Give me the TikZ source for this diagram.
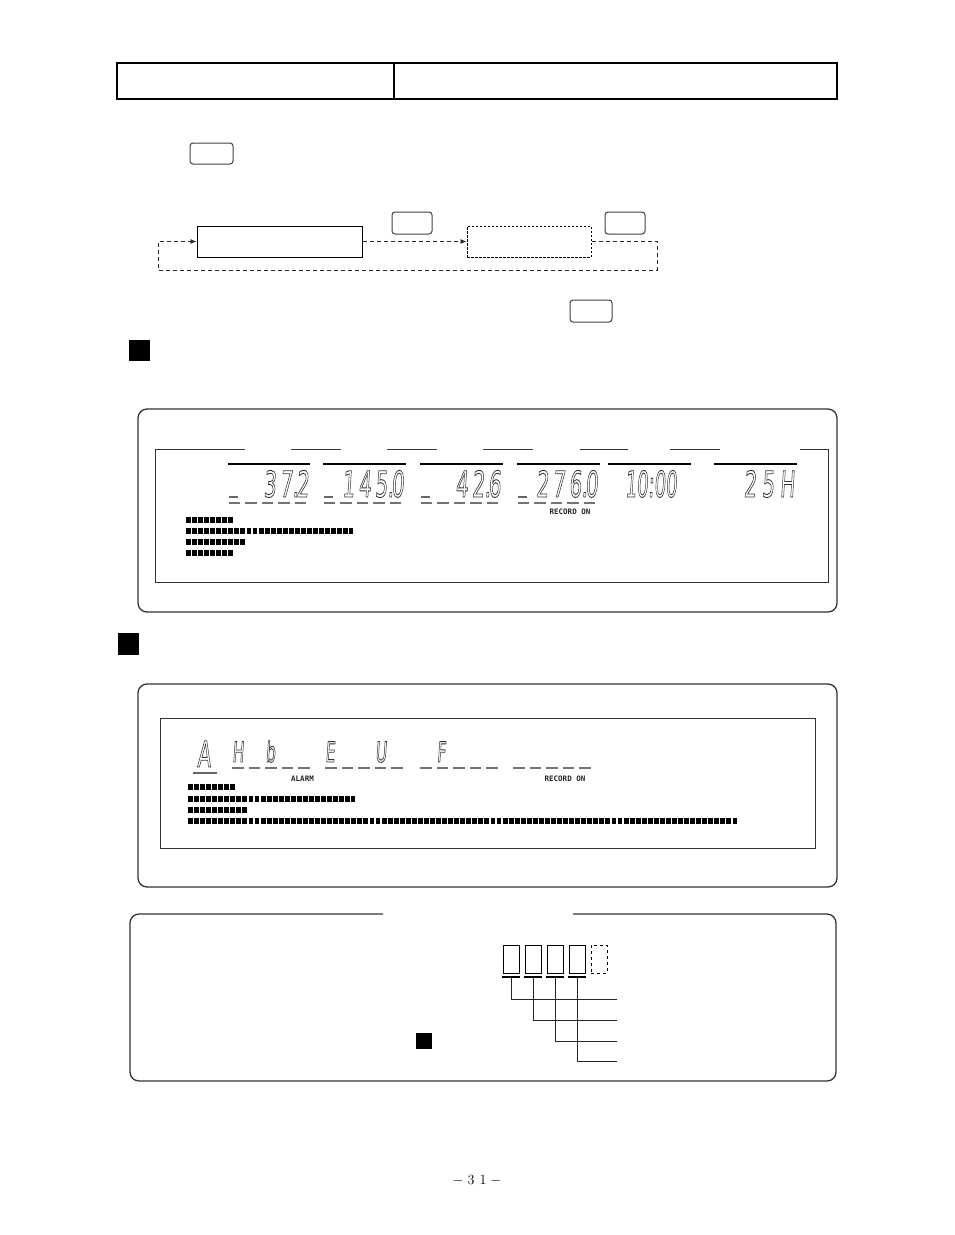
\documentclass[tikz,border=0pt]{standalone}
\usepackage{fontspec}
\usepackage{graphicx}
\newfontfamily\segfont[FakeSlant=0.12]{DejaVu Sans}
\newfontfamily\lcdfont{DejaVu Sans Mono}
\usetikzlibrary{arrows.meta}
\newcommand\outl[1]{\special{pdf:literal direct 1 Tr 0.9 w}#1\special{pdf:literal direct 0 Tr}}
\newcommand\sgA[1]{\scalebox{0.55}[1]{\outl{#1}}}
\newcommand\segrow[6]{% name, xstart, ybase, pitch, style, list
  \foreach \ch [count=\i from 0] in {#6}{%
    \node[#5] (#1-\i) at ({#2+#4*\i+2.5},#3) {\sgA{\ch}};}}
\tikzset{
  keybox/.style={draw=black!75, line width=1pt, rounded corners=3pt, inner sep=0pt},
  flowbox/.style={draw=black, line width=1pt, inner sep=0pt},
  flowline/.style={draw=black!85, line width=0.9pt, dash pattern=on 4pt off 3pt, -{Latex[length=6pt,width=5pt]}},
  panel/.style={draw=black!80, line width=1.3pt, rounded corners=9pt},
  lcd/.style={draw=black!80, line width=1pt},
  segL/.style={font=\segfont\fontsize{36}{36}\selectfont, inner sep=0pt, anchor=base west, text=black!80},
  segS/.style={font=\segfont\fontsize{28}{28}\selectfont, inner sep=0pt, anchor=base west, text=black!80},
  dashrow/.style={draw=black!55, line width=2.2pt, dash pattern=on 11.5pt off 5pt},
  uline/.style={draw=black!60, line width=2pt},
  bars/.style={draw=black, line width=6.8pt, dash pattern=on 4.9pt off 1.15pt},
  tag/.style={font=\lcdfont\bfseries\fontsize{7.5}{7.5}\selectfont, inner sep=0pt, text=black!85},
  blk/.style={fill=black, inner sep=0pt},
  cell/.style={draw=black, line width=0.9pt, minimum width=16pt, minimum height=28pt, inner sep=0pt},
}
\begin{document}
\begin{tikzpicture}[x=1pt,y=-1pt]
\useasboundingbox (0,0) rectangle (954,1235);

% header table
\draw[line width=2.6pt] (117,63) rectangle (837,99);
\draw[line width=2pt] (394,63) -- (394,99);

% key at top
\node[keybox, minimum width=43pt, minimum height=21pt] (key1) at (211.5,153.5) {};

% flow
\node[flowbox, minimum width=165pt, minimum height=31pt] (boxA) at (279.5,241.5) {};
\node[flowbox, dash pattern=on 2.5pt off 1.5pt, minimum width=124pt, minimum height=31pt] (boxB) at (529,241.5) {};
\node[keybox, minimum width=40pt, minimum height=22pt] (key2) at (412,223) {};
\node[keybox, minimum width=40pt, minimum height=22pt] (key3) at (625,223) {};
\node[keybox, minimum width=42pt, minimum height=22pt] (key4) at (591,311) {};
\coordinate (cr) at (657,270);
\coordinate (cl) at (158,270);
\draw[flowline] (boxA.east) -- (boxB.west);
\draw[flowline] (boxB.east) -| (cr) -- (cl) |- (boxA.west);

% black squares
\node[blk, minimum width=21pt, minimum height=21pt] (sq1) at (139.5,350.5) {};
\node[blk, minimum width=21pt, minimum height=22pt] (sq2) at (128.5,644) {};

% ===== panel 1 =====
\draw[panel] (138,409) rectangle (837,612);
\draw[lcd] (155,449) -- (155,582) -- (828,582) -- (828,449);
\foreach \a/\b in {155/245,291/341,387/437,483/533,580/628,670/720,800/828}
  \draw[lcd] (\a,449) -- (\b,449);
\foreach \a/\b in {228/310,323/406,420/503,517/600,608/691,714/797}
  \draw[black, line width=1.1pt] (\a,464) -- (\b,464);
\segrow{pa}{228}{497}{16.4}{segL}{{},{},3,7.,2}
\segrow{pb}{323}{497}{16.4}{segL}{{},1,4,5.,0}
\segrow{pc}{420}{497}{16.4}{segL}{{},{},4,2.,6}
\segrow{pd}{517}{497}{16.4}{segL}{{},2,7,6.,0}
\node[segL, anchor=base] (pe) at (651,497) {\scalebox{0.5}[1]{\outl{10:00}}};
\segrow{pf}{741}{497}{18}{segL}{2,5,H}
\foreach \a in {228,323,420,517}
  \draw[uline] (\a+0.5,497) -- (\a+9.5,497);
\foreach \a in {228,323,420,517}
  \draw[dashrow] (\a+0.5,503) -- (\a+80.5,503);
\node[tag] (rec1) at (570,511.5) {RECORD ON};
\draw[bars] (186,520) -- (233,520);
\draw[bars] (186,531) -- (353,531);
\draw[bars] (186,542) -- (245,542);
\draw[bars] (186,553) -- (233,553);

% ===== panel 2 =====
\draw[panel] (138,684) rectangle (837,887);
\draw[lcd] (160,718) rectangle (815,848);
\node[segL, anchor=base] (qA) at (204,767) {\sgA{A}};
\draw[uline] (193,773) -- (217,773);
\segrow{qa}{229.5}{762}{16.7}{segS}{H,{},b}
\segrow{qb}{322.5}{762}{16.7}{segS}{E,{},{},U}
\segrow{qc}{417.5}{762}{16.7}{segS}{{},F}
\foreach \a in {232,325,420,513}
  \draw[dashrow] (\a,768) -- (\a+80,768);
\node[tag] (alarm) at (302.5,779) {ALARM};
\node[tag] (rec2) at (565,779) {RECORD ON};
\draw[bars] (188,787) -- (235,787);
\draw[bars] (188,799) -- (355,799);
\draw[bars] (188,810) -- (247,810);
\draw[bars] (188,821) -- (737,821);

% ===== bottom panel =====
\draw[panel] (383,914) -- (130,914) -- (130,1081) -- (836,1081) -- (836,914) -- (573,914);
\node[cell] (b1) at (511,959) {};
\node[cell] (b2) at (533,959) {};
\node[cell] (b3) at (555,959) {};
\node[cell] (b4) at (577,959) {};
\node[cell, dashed] (b5) at (599,959) {};
\foreach \k in {1,2,3,4}
  \draw[line width=1.2pt] ([xshift=-1pt,yshift=-3.5pt]b\k.south west) -- ([xshift=1pt,yshift=-3.5pt]b\k.south east);
\coordinate (e1) at (617,999);
\coordinate (e2) at (617,1020);
\coordinate (e3) at (617,1041);
\coordinate (e4) at (617,1061);
\foreach \k in {1,2,3,4}
  \draw[black!85, line width=1pt] ([yshift=-3.5pt]b\k.south) |- (e\k);
\node[blk, minimum width=16pt, minimum height=16pt] (sq3) at (424,1040.5) {};

% page number
\node[font=\fontsize{14}{14}\selectfont] (pg) at (477,1180) {$-$\hspace{4pt}3\hspace{5pt}1\hspace{4pt}$-$};
\end{tikzpicture}
\end{document}
